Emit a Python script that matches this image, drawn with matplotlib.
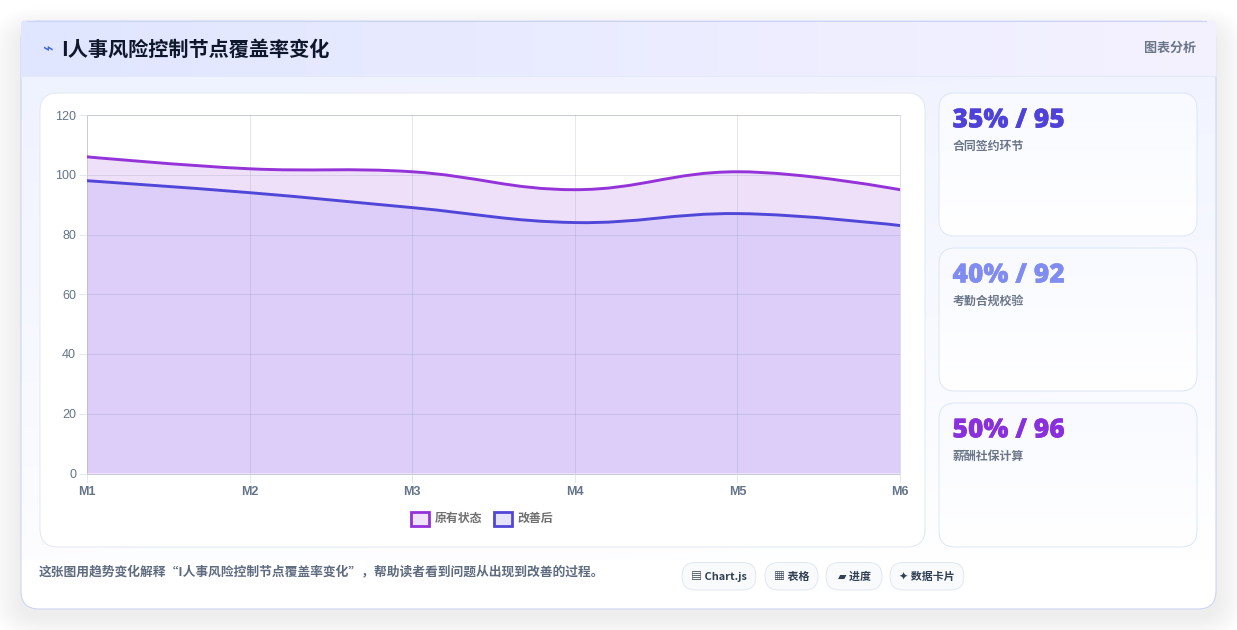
import numpy as np
import matplotlib
matplotlib.use("Agg")
import matplotlib.pyplot as plt
import matplotlib.patheffects as pe
from matplotlib.patches import FancyBboxPatch, PathPatch, Rectangle
from matplotlib.path import Path
from matplotlib.colors import to_rgb

plt.rcParams['font.family'] = ['Noto Sans CJK SC', 'DejaVu Sans']

months = ["M1", "M2", "M3", "M4", "M5", "M6"]
original = [106, 102, 101, 95, 101, 95]
improved = [98, 94, 89, 84, 87, 83]
y_ticks = [0, 20, 40, 60, 80, 100, 120]

series_names = ["原有状态", "改善后"]
title = "I人事风险控制节点覆盖率变化"
caption = "这张图用趋势变化解释“I人事风险控制节点覆盖率变化”，帮助读者看到问题从出现到改善的过程。"

card_values = ["35% / 95", "40% / 92", "50% / 96"]
card_labels = ["合同签约环节", "考勤合规校验", "薪酬社保计算"]
card_colors = ["#4f42d8", "#818cf0", "#8a2fdc"]
pill_labels = ["▤ Chart.js", "▦ 表格", "▰ 进度", "✦ 数据卡片"]

W, H = 1237, 630
PURPLE = "#9333d8"
BLUE = "#5046d8"
GREY = "#64748b"


def rounded(ax, x0, y0, x1, y1, r, **kw):
    p = FancyBboxPatch((x0, y0), x1 - x0, y1 - y0,
                       boxstyle=f"round,pad=0,rounding_size={r}", **kw)
    ax.add_patch(p)
    return p


def gradient(ax, clip, x0, y0, x1, y1, c0, c1, angle=0.0, zorder=1):
    # linear gradient image clipped to a patch, angle 0 = left to right
    h = int(y1 - y0)
    w = int(x1 - x0)
    yy, xx = np.mgrid[0:1:complex(0, h), 0:1:complex(0, w)]
    a = np.deg2rad(angle)
    t = xx * np.cos(a) + yy * np.sin(a)
    t = (t - t.min()) / (t.max() - t.min())
    rgb = np.zeros((h, w, 3))
    for k in range(3):
        rgb[..., k] = to_rgb(c0)[k] * (1 - t) + to_rgb(c1)[k] * t
    im = ax.imshow(rgb, extent=(x0, x1, y1, y0), aspect="auto", zorder=zorder,
                   interpolation="bilinear")
    im.set_clip_path(clip)
    return im


def spline_path(xs, ys, tension=0.4):
    # same cubic spline as a chart.js line with tension set
    xs = np.asarray(xs, float)
    ys = np.asarray(ys, float)
    verts = [(xs[0], ys[0])]
    codes = [Path.MOVETO]
    n = len(xs)
    for i in range(n - 1):
        c1 = (xs[i], ys[i])
        if i > 0:
            c1 = (xs[i] + tension * 0.5 * (xs[i + 1] - xs[i - 1]),
                  ys[i] + tension * 0.5 * (ys[i + 1] - ys[i - 1]))
        c2 = (xs[i + 1], ys[i + 1])
        if i + 2 < n:
            c2 = (xs[i + 1] - tension * 0.5 * (xs[i + 2] - xs[i]),
                  ys[i + 1] - tension * 0.5 * (ys[i + 2] - ys[i]))
        verts += [c1, c2, (xs[i + 1], ys[i + 1])]
        codes += [Path.CURVE4] * 3
    return verts, codes


fig = plt.figure(figsize=(W / 100, H / 100), dpi=100, facecolor="white")

# page layer in pixel coordinates
bg = fig.add_axes([0, 0, 1, 1])
bg.set_xlim(0, W)
bg.set_ylim(H, 0)
bg.axis("off")

# soft shadow under the main card
for grow in range(34, 0, -2):
    rounded(bg, 21 - grow, 21 + 10 - grow * 0.7, 1216 + grow, 609 + 8 + grow * 0.7, 18 + grow,
            fc="#1e1e50", ec="none", alpha=0.0028, zorder=0)

main = rounded(bg, 21, 21, 1216, 609, 18, fc="white", ec="none", zorder=1)
gradient(bg, main, 21, 76, 1216, 560, "#eff2ff", "#ffffff", angle=80, zorder=1.1)
rounded(bg, 21, 21, 1216, 609, 18, fc="none", ec="#cdd3f2", lw=0.75, zorder=1.15)

# header strip runs square into the top corners
head_clip = rounded(bg, 21, 20.5, 1216.5, 120, 4, fc="none", ec="none", zorder=1.2)
gradient(bg, head_clip, 21, 20, 1217, 76, "#e0e6ff", "#f5f2ff", zorder=1.2)
bg.plot([21, 1216], [76, 76], color="#e3e8fb", lw=0.7, zorder=1.3)
bg.plot([27, 1206], [20.8, 20.8], color="#cdd3f2", lw=0.75, zorder=1.3)

bg.text(47, 50, "⌁", color="#3b62d8", fontsize=13, ha="center", va="center", zorder=3)
bg.text(61.5, 49.5, title, color="#0f172a", fontsize=14.5, fontweight="bold",
        ha="left", va="center", zorder=3)
bg.text(1196, 48, "图表分析", color="#6b7789", fontsize=9.4, fontweight="bold",
        ha="right", va="center", zorder=3)

# chart panel
rounded(bg, 40, 93, 925, 547, 18, fc="white", ec="#e2e8f0", lw=0.72, zorder=2)

# stat cards
card_tops = [93, 248, 403]
card_bottoms = [236, 391, 547]
for top, bottom, value, label, color in zip(card_tops, card_bottoms, card_values, card_labels, card_colors):
    c = rounded(bg, 939, top, 1197, bottom, 16, fc="white", ec="none", zorder=2)
    gradient(bg, c, 939, top, 1197, bottom, "#f8faff", "#ffffff", angle=90, zorder=2.1)
    rounded(bg, 939, top, 1197, bottom, 16, fc="none", ec="#dde6f8", lw=0.72, zorder=2.2)
    t = bg.text(952.5, top + 27.5, value, color=color, fontsize=19, fontweight="black",
                family=["Open Sans", "DejaVu Sans"], ha="left", va="center", zorder=3)
    t.set_path_effects([pe.withStroke(linewidth=0.25, foreground=color)])
    bg.text(952.5, top + 53, label, color="#6b7789", fontsize=8.6, fontweight="bold",
            ha="left", va="center", zorder=3)

# legend swatches
legend_x = [411, 494]
legend_text_x = [435, 517]
legend_edges = [PURPLE, BLUE]
legend_faces = ["#efe2fb", "#e4e3fa"]
for x, tx, ec, fc, name in zip(legend_x, legend_text_x, legend_edges, legend_faces, series_names):
    bg.add_patch(Rectangle((x, 512), 18, 13.5, fc=fc, ec=ec, lw=2.0, zorder=3))
    bg.text(tx, 518, name, color="#707070", fontsize=8.6, fontweight="bold",
            ha="left", va="center", zorder=3)

bg.text(39, 572, caption, color="#5f6c80", fontsize=9.19, fontweight="bold",
        ha="left", va="center", zorder=3)

# tag pills
pill_left = [682, 765, 826, 890]
pill_right = [756, 818, 882, 964]
for x0, x1, label in zip(pill_left, pill_right, pill_labels):
    rounded(bg, x0, 562.5, x1, 590, 13.5, fc="#f8fafc", ec="#e2e8f0", lw=0.7, zorder=2)
    bg.text((x0 + x1) / 2, 576.5, label, color="#334155", fontsize=7.9, fontweight="bold",
            ha="center", va="center", zorder=3)

# trend chart
ax = fig.add_axes([87 / W, 1 - 473.5 / H, (900 - 87) / W, (473.5 - 115) / H])
ax.patch.set_alpha(0)
x = np.arange(len(months))
ax.set_xlim(0, len(months) - 1)
ax.set_ylim(0, 120)

for values, edge, fill_color, z in [(original, PURPLE, "#9333d8", 2), (improved, BLUE, "#776af4", 3)]:
    verts, codes = spline_path(x, values)
    outline = Path(verts, codes)
    base = Path(verts + [(x[-1], 0), (x[0], 0), verts[0]],
                codes + [Path.LINETO, Path.LINETO, Path.CLOSEPOLY])
    ax.add_patch(PathPatch(base, fc=fill_color, ec="none", alpha=0.15, zorder=z))
    ax.add_patch(PathPatch(outline, fc="none", ec=edge, lw=2.1, zorder=z + 3, capstyle="round"))

ax.set_xticks(x, months)
ax.set_yticks(y_ticks)
ax.grid(True, color=GREY, alpha=0.16, lw=0.72, zorder=4)
ax.set_axisbelow(False)
ax.tick_params(axis="both", color="#e3e6ec", length=5.8, width=0.72)
ax.tick_params(axis="x", pad=3.2)
ax.tick_params(axis="y", pad=2)
for lab in ax.get_xticklabels():
    lab.set(family=["Liberation Sans"], fontsize=9, fontweight="bold", color=GREY)
for lab in ax.get_yticklabels():
    lab.set(family=["Liberation Sans"], fontsize=9, color=GREY)
for name, sp in ax.spines.items():
    sp.set_color("#c8c9d6" if name == "bottom" else "#dcdfe6")
    sp.set_linewidth(0.72)

fig.savefig("out.png", dpi=100)
